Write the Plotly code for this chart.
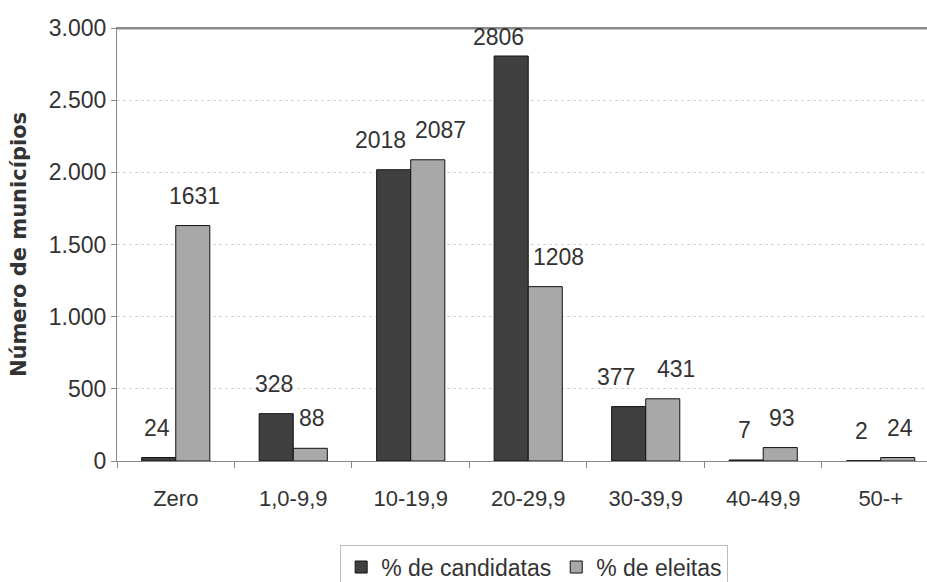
import plotly.graph_objects as go

categories = ["Zero", "1,0-9,9", "10-19,9", "20-29,9", "30-39,9", "40-49,9", "50-+"]
candidatas = [24, 328, 2018, 2806, 377, 7, 2]
eleitas = [1631, 88, 2087, 1208, 431, 93, 24]
series_names = ["% de candidatas", "% de eleitas"]
y_ticks = [0, 500, 1000, 1500, 2000, 2500, 3000]
y_tick_labels = ["0", "500", "1.000", "1.500", "2.000", "2.500", "3.000"]

FONT = "Liberation Sans, Arial, sans-serif"
TXT = "#333333"
Y_MAX = 3000
PLOT_H = 582 - 28 - 121

fig = go.Figure()
fig.add_trace(go.Bar(x=categories, y=candidatas, name=series_names[0],
                     marker=dict(color="#404040", line=dict(color="#111111", width=1))))
fig.add_trace(go.Bar(x=categories, y=eleitas, name=series_names[1],
                     marker=dict(color="#a8a8a8", line=dict(color="#111111", width=1))))

# data labels, spread apart when both labels of a group are wide,
# kept below the top frame line
annotations = []
for i, c in enumerate(categories):
    wide = len(str(candidatas[i])) >= 3 and len(str(eleitas[i])) >= 3
    push = 13 if wide else 2
    for vals, off, sgn in ((candidatas, -0.145, -1), (eleitas, 0.145, 1)):
        headroom = (Y_MAX - vals[i]) * PLOT_H / Y_MAX - 24
        annotations.append(dict(
            x=i + off, y=vals[i], xref="x", yref="y", text=str(vals[i]),
            showarrow=False, yanchor="bottom", yshift=min(15, headroom), xshift=sgn * push,
            font=dict(family=FONT, size=23, color=TXT)))

fig.update_layout(
    width=927, height=582,
    margin=dict(l=117, r=0, t=28, b=121, autoexpand=False),
    paper_bgcolor="white", plot_bgcolor="white",
    barmode="group", bargap=0.42, bargroupgap=0,
    font=dict(family=FONT, size=22, color=TXT),
    annotations=annotations,
    shapes=[dict(type="line", xref="paper", yref="paper", x0=0, x1=1, y0=0.999, y1=0.999,
                 layer="above", line=dict(color="#8a8a8a", width=2))],
    showlegend=True,
    legend=dict(orientation="h", x=0.515, xanchor="center", y=-0.193, yanchor="top",
                bordercolor="#bbbbbb", borderwidth=1, font=dict(size=23, color=TXT),
                itemwidth=30, tracegroupgap=0),
    xaxis=dict(type="category", range=[-0.5, 6.394], showline=True, linecolor="#888888",
               linewidth=1, mirror=True, ticks="outside", tickson="boundaries",
               ticklen=6, tickcolor="#888888", showgrid=False, automargin=False,
               ticklabelstandoff=18, tickfont=dict(size=22, color=TXT)),
    yaxis=dict(range=[0, Y_MAX], tickvals=y_ticks, ticktext=y_tick_labels,
               showline=True, linecolor="#888888", linewidth=1, automargin=False,
               ticks="outside", ticklen=5, tickcolor="#888888",
               showgrid=True, gridcolor="#d4d4d4", griddash="dot", gridwidth=1,
               zeroline=False, tickfont=dict(size=23, color=TXT),
               title=dict(text="<b>Número de municípios</b>",
                          font=dict(family="DejaVu Sans", size=21, color=TXT),
                          standoff=16)),
)

fig.write_html("out.html", config={"displayModeBar": False},
               post_script="document.body.style.margin='0';document.body.style.overflow='hidden';")
